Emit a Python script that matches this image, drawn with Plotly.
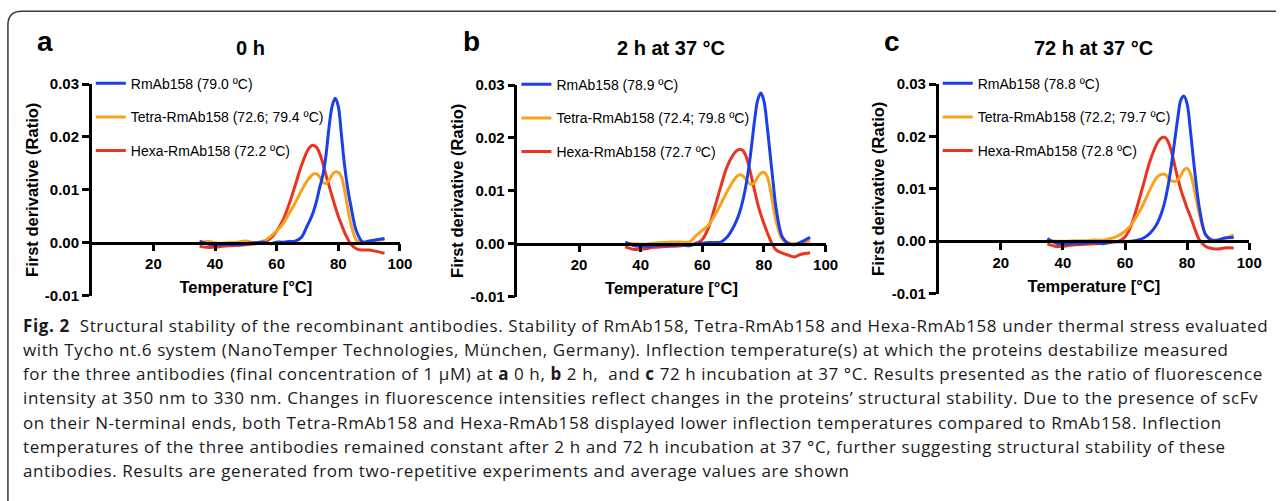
import plotly.graph_objects as go

W = 1284
PH = 510          # figure (page) height in px
CAP_H = 517       # height of the region that gets photographed into 501 px
PHOTO_H = 501
TOP = 8           # page top offset inside the photographed region

# ---------------- data ----------------
temperature = [35, 38, 41, 44, 47, 50, 53, 56, 58, 60, 62, 64, 66, 68, 70, 71, 72, 73, 74,
               75, 76, 77, 78, 79, 80, 81, 82, 83, 84, 86, 88, 90, 92, 95]

# panel a: 0 h
rmab_a = [0.0003, -0.0003, -0.0004, -0.0003, -0.0004, -0.0002, 0.0, 0.0001, -0.0002, 0.0001,
          0.0001, 0.0002, 0.0003, 0.0010, 0.0033, 0.0045, 0.0060, 0.0080, 0.0105, 0.0128,
          0.0165, 0.0218, 0.0258, 0.0273, 0.0258, 0.0205, 0.0148, 0.0105, 0.0072, 0.0020,
          0.0001, 0.0003, 0.0005, 0.0008]
tetra_a = [0.0001, 0.0002, -0.0001, 0.0, 0.0001, 0.0003, 0.0, 0.0004, 0.0012, 0.0022,
           0.0035, 0.0055, 0.0075, 0.0098, 0.0118, 0.0125, 0.0130, 0.0130, 0.0124, 0.0114,
           0.0112, 0.0118, 0.0128, 0.0134, 0.0133, 0.0125, 0.0100, 0.0068, 0.0038, 0.0004,
           0.0001, 0.0002, 0.0004, 0.0006]
hexa_a = [-0.0007, -0.0009, -0.0008, -0.0006, -0.0005, -0.0004, -0.0002, 0.0001, 0.0008, 0.0022,
          0.0042, 0.0072, 0.0108, 0.0145, 0.0174, 0.0182, 0.0184, 0.0180, 0.0168, 0.0150,
          0.0128, 0.0108, 0.0088, 0.0068, 0.0050, 0.0035, 0.0020, 0.0008, -0.0002, -0.0012,
          -0.0014, -0.0014, -0.0016, -0.0020]

# panel b: 2 h at 37 °C
rmab_b = [0.0003, -0.0004, -0.0005, -0.0004, -0.0003, -0.0003, -0.0002, -0.0004, 0.0, 0.0001,
          0.0002, 0.0002, 0.0003, 0.0012, 0.0030, 0.0042, 0.0057, 0.0078, 0.0105, 0.0140,
          0.0185, 0.0235, 0.0272, 0.0285, 0.0270, 0.0225, 0.0170, 0.0115, 0.0065, 0.0012,
          0.0, -0.0002, 0.0003, 0.0012]
tetra_b = [0.0, 0.0, -0.0001, 0.0001, 0.0002, 0.0003, 0.0003, 0.0004, 0.0015, 0.0025,
           0.0035, 0.0053, 0.0075, 0.0098, 0.0118, 0.0126, 0.0130, 0.0129, 0.0123, 0.0115,
           0.0112, 0.0116, 0.0126, 0.0133, 0.0135, 0.0128, 0.0105, 0.0072, 0.0042, 0.0008,
           0.0001, 0.0, 0.0002, 0.0005]
hexa_b = [-0.0006, -0.0011, -0.0010, -0.0007, -0.0006, -0.0005, -0.0004, -0.0002, 0.0001, 0.0008,
          0.0030, 0.0068, 0.0108, 0.0145, 0.0168, 0.0175, 0.0178, 0.0177, 0.0168, 0.0150,
          0.0125, 0.0100, 0.0075, 0.0055, 0.0038, 0.0022, 0.0008, -0.0004, -0.0012, -0.0018,
          -0.0022, -0.0025, -0.0020, -0.0017]

# panel c: 72 h at 37 °C
rmab_c = [0.0005, -0.0004, -0.0005, -0.0004, -0.0004, -0.0002, -0.0005, -0.0001, -0.0001, -0.0001,
          0.0, 0.0002, 0.0006, 0.0015, 0.0030, 0.0042, 0.0058, 0.0080, 0.0110, 0.0148,
          0.0192, 0.0235, 0.0270, 0.0277, 0.0262, 0.0215, 0.0158, 0.0105, 0.0062, 0.0012,
          0.0002, 0.0002, 0.0006, 0.0007]
tetra_c = [0.0001, 0.0, 0.0, 0.0001, 0.0001, 0.0002, 0.0002, 0.0006, 0.0011, 0.0019,
           0.0031, 0.0050, 0.0072, 0.0098, 0.0120, 0.0126, 0.0128, 0.0127, 0.0120, 0.0115,
           0.0114, 0.0117, 0.0126, 0.0136, 0.0139, 0.0130, 0.0108, 0.0078, 0.0050, 0.0012,
           0.0002, 0.0003, 0.0005, 0.0012]
hexa_c = [-0.0005, -0.0010, -0.0009, -0.0007, -0.0006, -0.0005, -0.0004, -0.0002, 0.0, 0.0008,
          0.0030, 0.0068, 0.0110, 0.0152, 0.0183, 0.0193, 0.0198, 0.0198, 0.0188, 0.0170,
          0.0145, 0.0120, 0.0098, 0.0080, 0.0063, 0.0048, 0.0032, 0.0015, 0.0002, -0.0010,
          -0.0014, -0.0015, -0.0013, -0.0013]

panel_letters = ["a", "b", "c"]
panel_titles = ["0 h", "2 h at 37 °C", "72 h at 37 °C"]
legend_rmab = ["RmAb158 (79.0 ºC)", "RmAb158 (78.9 ºC)", "RmAb158 (78.8 ºC)"]
legend_tetra = ["Tetra-RmAb158 (72.6; 79.4 ºC)", "Tetra-RmAb158 (72.4; 79.8 ºC)",
                "Tetra-RmAb158 (72.2; 79.7 ºC)"]
legend_hexa = ["Hexa-RmAb158 (72.2 ºC)", "Hexa-RmAb158 (72.7 ºC)", "Hexa-RmAb158 (72.8 ºC)"]

y_ticks = [-0.01, 0.0, 0.01, 0.02, 0.03]
y_ticktext = ["-0.01", "0.00", "0.01", "0.02", "0.03"]
x_ticks = [20, 40, 60, 80, 100]

caption_lines = [
    "<b>Fig. 2</b>  Structural stability of the recombinant antibodies. Stability of RmAb158, Tetra-RmAb158 and Hexa-RmAb158 under thermal stress evaluated",
    "with Tycho nt.6 system (NanoTemper Technologies, München, Germany). Inflection temperature(s) at which the proteins destabilize measured",
    "for the three antibodies (final concentration of 1 μM) at <b>a</b> 0 h, <b>b</b> 2 h,  and <b>c</b> 72 h incubation at 37 °C. Results presented as the ratio of fluorescence",
    "intensity at 350 nm to 330 nm. Changes in fluorescence intensities reflect changes in the proteins’ structural stability. Due to the presence of scFv",
    "on their N-terminal ends, both Tetra-RmAb158 and Hexa-RmAb158 displayed lower inflection temperatures compared to RmAb158. Inflection",
    "temperatures of the three antibodies remained constant after 2 h and 72 h incubation at 37 °C, further suggesting structural stability of these",
    "antibodies. Results are generated from two-repetitive experiments and average values are shown",
]

# ---------------- style / layout ----------------
BLUE = "#1b3fe8"
ORANGE = "#f6a31c"
RED = "#ea3420"
FONT = "Liberation Sans, Arial, Helvetica, sans-serif"
CAP_FONT = "Open Sans, Noto Sans, sans-serif"


def X(px):
    return px / W


def Y(photo_py):
    page_y = photo_py * CAP_H / PHOTO_H - TOP
    return 1 - page_y / PH


# photo-pixel geometry of each panel: x-axis left/right, y of top (0.03), y of bottom (-0.01)
geom = [
    (92.7, 404.0, 83.0, 295.0),
    (522.7, 834.0, 84.0, 296.0),
    (948.3, 1262.0, 83.0, 293.0),
]

series_sets = [
    (rmab_a, tetra_a, hexa_a),
    (rmab_b, tetra_b, hexa_b),
    (rmab_c, tetra_c, hexa_c),
]

fig = go.Figure()
layout = dict(
    width=W, height=PH,
    margin=dict(l=0, r=0, t=0, b=0),
    paper_bgcolor="white", plot_bgcolor="rgba(0,0,0,0)",
    font=dict(family=FONT, color="black"),
    showlegend=True,
)
annotations = []

for i in range(3):
    xl, xr, yt, yb = geom[i]
    sfx = "" if i == 0 else str(i + 1)
    xname, yname = "x" + sfx, "y" + sfx
    legname = "legend" + sfx
    rm, te, hx = series_sets[i]

    for vals, name, color, rank in [
        (hx, legend_hexa[i], RED, 3),
        (te, legend_tetra[i], ORANGE, 2),
        (rm, legend_rmab[i], BLUE, 1),
    ]:
        fig.add_trace(go.Scatter(
            x=temperature, y=vals, name=name, mode="lines",
            line=dict(color=color, width=3, shape="spline", smoothing=1.0),
            xaxis=xname, yaxis=yname, legend=legname,
            legendgroup=name, legendrank=rank, hoverinfo="skip",
        ))

    y0, y1 = Y(yb), Y(yt)
    zero_pos = y0 + 0.25 * (y1 - y0)
    layout["xaxis" + sfx] = dict(
        domain=[X(xl), X(xr)], range=[0, 100], anchor="free", position=zero_pos,
        showline=True, linewidth=2.5, linecolor="black", mirror=False,
        ticks="outside", ticklen=7, tickwidth=2.5, tickcolor="black",
        tickvals=x_ticks, tickfont=dict(size=15, family=FONT, weight="bold"),
        showgrid=False, zeroline=False,
        title=dict(text="<b>Temperature [°C]</b>", font=dict(size=16.5, family=FONT), standoff=10),
    )
    layout["yaxis" + sfx] = dict(
        domain=[y0, y1], range=[-0.01, 0.03], anchor=xname,
        showline=True, linewidth=2.5, linecolor="black",
        ticks="outside", ticklen=7, tickwidth=2.5, tickcolor="black",
        tickvals=y_ticks, ticktext=y_ticktext,
        tickfont=dict(size=15, family=FONT, weight="bold"),
        showgrid=False, zeroline=False,
        title=dict(text="<b>First derivative (Ratio)</b>", font=dict(size=16.5, family=FONT), standoff=3),
    )
    layout[legname] = dict(
        x=X(xl - 1), y=Y(yt - 16.5), xanchor="left", yanchor="top",
        bgcolor="rgba(0,0,0,0)", borderwidth=0,
        font=dict(size=14, family=FONT), traceorder="grouped",
        tracegroupgap=12.5, itemclick=False,
    )
    # panel letter and title
    annotations.append(dict(
        text="<b>%s</b>" % panel_letters[i], x=X(xl - 57), y=Y(40.5), xref="paper", yref="paper",
        xanchor="left", yanchor="middle", showarrow=False,
        font=dict(size=28, family=FONT),
    ))
    annotations.append(dict(
        text="<b>%s</b>" % panel_titles[i], x=X([253, 678, 1105][i]), y=Y(47),
        xref="paper", yref="paper", xanchor="center", yanchor="middle", showarrow=False,
        font=dict(size=20, family=FONT),
    ))

# caption
for k, line in enumerate(caption_lines):
    annotations.append(dict(
        text='<span style="letter-spacing:0.6px">%s</span>' % line,
        x=X(21), y=Y(325 + 24.2 * k), xref="paper", yref="paper",
        xanchor="left", yanchor="middle", showarrow=False, align="left",
        font=dict(size=17, family=CAP_FONT, color="#1a1a1a"),
    ))

layout["annotations"] = annotations

# frame with rounded top-left corner (photo pixel coordinates)
r = 14
fx, fy = 8, 10
path = "M %f,%f L %f,%f Q %f,%f %f,%f L %f,%f" % (
    X(fx), Y(530), X(fx), Y(fy + r), X(fx), Y(fy), X(fx + r), Y(fy), X(W + 5), Y(fy))
layout["shapes"] = [dict(type="path", path=path, xref="paper", yref="paper",
                         line=dict(color="#3a3a3a", width=1.5))]

fig.update_layout(**layout)
fig.write_html(
    "out.html",
    config={"displayModeBar": False},
    post_script=(
        "document.documentElement.style.margin='0';"
        "document.body.style.margin='0';document.body.style.padding='0';"
        "document.body.style.overflow='hidden';"
        "var gd=document.getElementById('{plot_id}');"
        "gd.style.position='fixed';gd.style.top='0px';gd.style.left='0px';"
    ),
)
